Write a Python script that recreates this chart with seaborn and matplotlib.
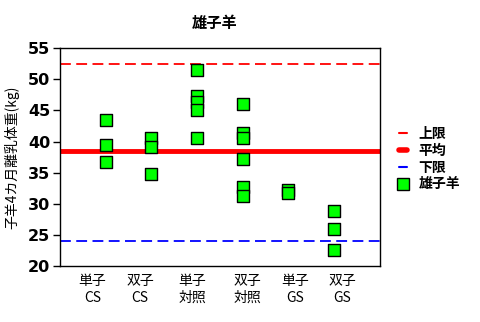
import matplotlib
matplotlib.use("Agg")
import matplotlib.pyplot as plt
import seaborn as sns
import pandas as pd
from matplotlib.lines import Line2D

sns.set_style("ticks")
plt.rcParams['font.family'] = ['Noto Sans CJK JP', 'DejaVu Sans']
plt.rcParams['text.color'] = 'black'
plt.rcParams['axes.labelcolor'] = 'black'
plt.rcParams['xtick.color'] = 'black'
plt.rcParams['ytick.color'] = 'black'

# data
group_pos = [0, 0, 0, 1, 1, 1, 2, 2, 2, 2, 2, 3, 3, 3, 3, 3, 3, 4, 4, 5, 5, 5]
weights = [43.4, 39.5, 36.7,
           40.5, 39.2, 34.8,
           51.5, 47.35, 46.4, 45.0, 40.6,
           46.0, 41.4, 40.6, 37.2, 32.7, 31.3,
           32.2, 31.7,
           28.8, 25.9, 22.5]
tick_pos = [-0.29, 0.75, 1.9, 3.1, 4.15, 5.17]
tick_labels = ["単子\nCS", "双子\nCS", "単子\n対照", "双子\n対照", "単子\nGS", "双子\nGS"]
upper_limit = 52.45
mean_val = 38.5
lower_limit = 24.05

df = pd.DataFrame({"x": group_pos, "y": weights})

fig = plt.figure(figsize=(4.81, 3.22), dpi=100)
ax = fig.add_axes([0.1247, 0.174, 0.665, 0.676])

ax.axhline(upper_limit, color="#ff0000", lw=1.3, ls=(0, (6, 3)), zorder=1)
ax.axhline(mean_val, color="#ff0000", lw=3.5, zorder=1)
ax.axhline(lower_limit, color="#0000ff", lw=1.3, ls=(0, (6, 3)), zorder=1)

sns.scatterplot(data=df, x="x", y="y", ax=ax, marker="s", s=72,
                color="#00ff00", edgecolor="black", linewidth=1.0, zorder=3, legend=False)

ax.set_xlim(-1.0, 6.0)
ax.set_ylim(20, 55)
ax.set_yticks(range(20, 56, 5))
ax.set_yticklabels([str(v) for v in range(20, 56, 5)], fontsize=11.5, fontweight="bold",
                   family=["DejaVu Sans"])
ax.set_xticks(tick_pos)
ax.set_xticklabels(tick_labels, fontsize=10, linespacing=1.2)
ax.tick_params(axis="x", length=0, pad=6)
ax.tick_params(axis="y", length=5, width=1, direction="out", pad=2)
for s in ax.spines.values():
    s.set_linewidth(1.0)
    s.set_color("black")
ax.set_xlabel("")
ax.set_ylabel("子羊4カ月離乳体重(kg)", fontsize=10, labelpad=6)

fig.suptitle("雄子羊", x=0.447, y=0.955, fontsize=11, fontweight="bold")

handles = [
    Line2D([], [], color="#ff0000", lw=1.5),
    Line2D([], [], color="#ff0000", lw=4),
    Line2D([], [], color="#0000ff", lw=1.5),
    Line2D([], [], marker="s", ls="", markersize=8, markerfacecolor="#00ff00",
           markeredgecolor="black"),
]
labels = ["上限", "平均", "下限", "雄子羊"]
leg = fig.legend(handles, labels, loc="upper left", bbox_to_anchor=(0.815, 0.627),
                 frameon=False, fontsize=10, handlelength=0.6, handletextpad=0.8,
                 labelspacing=0.2, borderpad=0)
for t in leg.get_texts():
    t.set_fontweight("bold")

fig.savefig("out.png", dpi=100)
